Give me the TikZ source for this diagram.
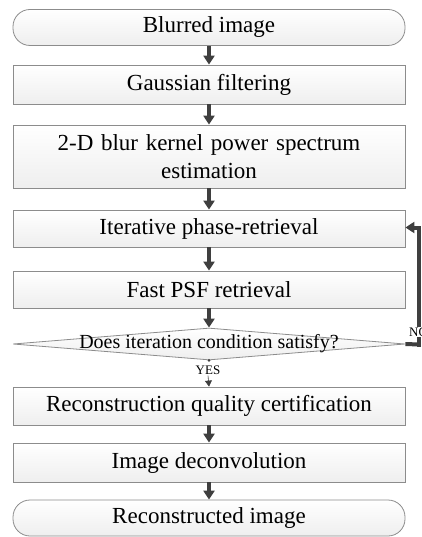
\documentclass[tikz,border=0pt]{standalone}
\usepackage{fontspec}
\setmainfont{Liberation Serif}
\usetikzlibrary{shapes.geometric,arrows.meta}

\definecolor{edgegray}{HTML}{8C8C8C}
\definecolor{arrowgray}{HTML}{3F3F3F}

\tikzset{
  boxbase/.style={draw=edgegray, line width=0.8pt, top color=white, bottom color=gray!13,
    minimum width=392pt, inner sep=0pt, align=center,
    font=\fontsize{23}{28}\selectfont},
  stepbox/.style={boxbase, rectangle},
  termbox/.style={boxbase, rectangle, rounded corners=17pt},
  flowarrow/.style={draw=arrowgray, line width=4pt,
    -{Triangle[width=11pt,length=9pt]}},
  backline/.style={draw=arrowgray, line width=4pt},
  smalllabel/.style={inner sep=0.5pt, fill=white, font=\fontsize{13}{15}\selectfont},
}

\begin{document}
\begin{tikzpicture}[x=1pt,y=-1pt]
  \useasboundingbox (0,0) rectangle (422,537);

  % main column of steps
  \node[termbox, minimum height=36pt] (blur)   at (209,27.5)  {Blurred image};
  \node[stepbox, minimum height=39pt] (gauss)  at (209,84.5)  {Gaussian filtering};
  \node[stepbox, minimum height=63pt, text width=380pt] (psd) at (209,156.5)
       {2-D blur kernel power spectrum\\estimation};
  \node[stepbox, minimum height=37pt] (iter)   at (209,228.5) {Iterative phase-retrieval};
  \node[stepbox, minimum height=37pt] (fast)   at (209,289.5) {Fast PSF retrieval};

  % decision
  \node[diamond, draw=edgegray, line width=0.8pt, top color=white, bottom color=gray!13,
        minimum width=392pt, minimum height=32pt, inner sep=0pt] (dec) at (209,344) {};
  \node[inner sep=0pt, font=\fontsize{20}{24}\selectfont] (dectext) at (209,344)
       {Does iteration condition satisfy?};

  \node[stepbox, minimum height=38pt] (rqc)    at (209,406)   {Reconstruction quality certification};
  \node[stepbox, minimum height=39pt] (deconv) at (209,462.5) {Image deconvolution};
  \node[termbox, minimum height=36pt] (recon)  at (209,518)   {Reconstructed image};

  % forward arrows
  \draw[flowarrow] (blur.south)  -- (gauss.north);
  \draw[flowarrow] (gauss.south) -- (psd.north);
  \draw[flowarrow] (psd.south)   -- (iter.north);
  \draw[flowarrow] (iter.south)  -- (fast.north);
  \draw[flowarrow] (fast.south)  -- (dec.north);
  \draw[flowarrow] (rqc.south)   -- (deconv.north);
  \draw[flowarrow] (deconv.south) -- (recon.north);

  % NO branch: loop back to phase retrieval
  \coordinate (nocorner) at (419,344.5);
  \coordinate (topcorner) at (419,227.5);
  \draw[backline] (dec.east) -- (nocorner);
  \draw[backline, line join=miter, -{Triangle[width=11pt,length=9pt]}]
       ([xshift=-2pt]nocorner) -- (nocorner) -- (topcorner) -- (iter.east |- topcorner);

  % labels of the decision branches, set over the connectors
  \node[smalllabel] (yes) at (208,370.5) {YES};
  \node[smalllabel, anchor=west] (no) at (408.5,332) {NO};

  % YES branch
  \fill[arrowgray] (dec.south) circle (1.5pt);
  \draw[draw=arrowgray, line width=0.6pt, -{Triangle[width=7pt,length=6pt]}]
       (yes.south) -- (rqc.north);
\end{tikzpicture}
\end{document}
